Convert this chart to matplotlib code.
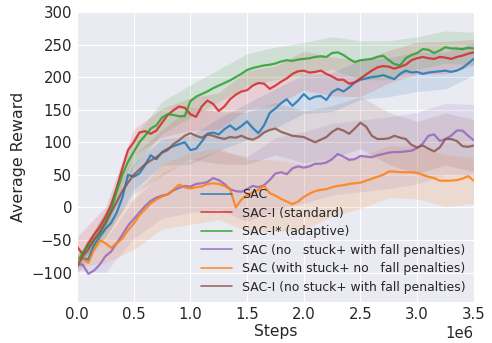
import numpy as np
import matplotlib
matplotlib.use("Agg")
import matplotlib.pyplot as plt
import seaborn as sns

steps = np.round(np.arange(0, 3.5001, 0.05), 2) * 1e6
band_steps = np.round(np.arange(0, 3.5001, 0.25), 2) * 1e6

labels = ["SAC", "SAC-I (standard)", "SAC-I* (adaptive)",
          "SAC (no   stuck+ with fall penalties)",
          "SAC (with stuck+ no   fall penalties)",
          "SAC-I (no stuck+ with fall penalties)"]

sac = [-80, -78, -80, -58, -45, -33, -24, -8, 15, 50, 47, 52, 65, 80, 74, 85, 90, 94, 97, 100,
       88, 90, 101, 113, 115, 112, 120, 126, 119, 125, 132, 122, 114, 126, 145, 152, 160, 166, 156, 164,
       174, 166, 170, 171, 165, 177, 182, 178, 184, 192, 196, 198, 200, 201, 203, 200, 197, 205, 210, 207,
       208, 205, 207, 208, 209, 210, 208, 210, 214, 221, 228]
sac_i = [-60, -72, -55, -42, -30, -15, 3, 30, 60, 88, 100, 115, 117, 113, 118, 130, 142, 149, 155, 153,
         143, 139, 155, 164, 159, 148, 155, 166, 173, 178, 180, 187, 191, 190, 182, 187, 193, 198, 205, 209,
         210, 207, 208, 210, 205, 201, 196, 196, 190, 192, 198, 204, 210, 215, 217, 216, 213, 216, 219, 226,
         229, 231, 229, 228, 231, 230, 228, 231, 233, 236, 238]
sac_i_star = [-85, -70, -60, -50, -40, -22, -5, 25, 50, 70, 85, 100, 110, 121, 126, 138, 143, 142, 140, 140,
              163, 170, 174, 178, 183, 187, 191, 195, 200, 205, 211, 214, 216, 218, 219, 221, 224, 226, 225, 227,
              228, 229, 231, 232, 231, 237, 238, 234, 228, 223, 226, 227, 228, 231, 233, 226, 220, 218, 229, 234,
              237, 243, 242, 237, 241, 246, 244, 244, 243, 245, 244]
sac_fall = [-87, -88, -102, -97, -88, -75, -68, -55, -42, -28, -18, -8, 2, 10, 15, 18, 20, 26, 30, 33,
            32, 36, 37, 39, 45, 42, 36, 28, 25, 24, 28, 33, 31, 34, 42, 52, 54, 51, 60, 63,
            61, 63, 67, 67, 69, 74, 82, 78, 73, 74, 79, 78, 77, 80, 82, 84, 85, 85, 86, 87,
            91, 98, 110, 112, 102, 105, 110, 118, 118, 110, 103]
sac_stuck = [-82, -78, -85, -65, -50, -55, -62, -55, -48, -35, -25, -12, -3, 6, 12, 17, 20, 27, 35, 31,
             29, 31, 32, 36, 37, 36, 33, 28, 0, 12, 19, 23, 27, 33, 22, 18, 13, 9, 5, 9,
             16, 21, 25, 27, 28, 31, 33, 34, 36, 37, 38, 41, 44, 47, 50, 55, 55, 54, 54, 54,
             53, 50, 47, 45, 41, 41, 41, 42, 44, 48, 41]
sac_i_fall = [-92, -75, -65, -50, -38, -25, -8, 8, 25, 38, 50, 58, 66, 72, 77, 84, 88, 97, 103, 110,
              114, 110, 107, 112, 110, 107, 105, 108, 107, 110, 106, 104, 108, 115, 119, 121, 116, 113, 110, 109,
              108, 104, 100, 104, 108, 116, 121, 118, 113, 121, 130, 124, 110, 105, 105, 106, 110, 107, 105, 96,
              92, 95, 90, 86, 92, 105, 105, 102, 94, 93, 95]

spread_sac = [5, 15, 20, 20, 22, 25, 28, 30, 30, 30, 30, 30, 30, 28, 25]
spread_sac_i = [15, 15, 20, 22, 25, 28, 30, 30, 30, 30, 28, 25, 25, 25, 20]
spread_sac_i_star = [10, 15, 22, 25, 25, 25, 25, 25, 25, 25, 30, 30, 25, 25, 25]
spread_sac_fall = [10, 25, 30, 35, 40, 45, 50, 55, 55, 55, 55, 55, 55, 55, 55]
spread_sac_stuck = [10, 30, 40, 50, 55, 55, 55, 55, 50, 45, 40, 40, 40, 40, 35]
spread_sac_i_fall = [10, 20, 30, 35, 40, 40, 40, 40, 40, 40, 40, 40, 40, 40, 40]

series = [sac, sac_i, sac_i_star, sac_fall, sac_stuck, sac_i_fall]
spreads = [spread_sac, spread_sac_i, spread_sac_i_star, spread_sac_fall, spread_sac_stuck, spread_sac_i_fall]
colors = ["tab:blue", "tab:red", "tab:green", "tab:purple", "tab:orange", "tab:brown"]

sns.set_style("darkgrid")
plt.rcParams['font.family'] = ['DejaVu Sans']

fig = plt.figure(figsize=(4.92, 3.43), dpi=100)
ax = fig.add_axes([0.1565, 0.12, 0.8065, 0.845])

for vals, spr, col in zip(series, spreads, colors):
    v = np.array(vals, dtype=float)
    s = np.array(spr, dtype=float)
    vc = v[::5]
    ax.fill_between(band_steps, vc - s, vc + s, color=col, alpha=0.14, linewidth=0)

for vals, col, lab in zip(series, colors, labels):
    ax.plot(steps, vals, color=col, lw=1.6, alpha=0.85, label=lab)

ax.set_xlim(0, 3.5e6)
ax.set_ylim(-145, 300)
ax.set_yticks(np.arange(-100, 301, 50))
ax.set_xticks(np.arange(0, 3.51e6, 0.5e6))
ax.tick_params(labelsize=10.7, length=0, pad=3.5)
ax.xaxis.get_offset_text().set_fontsize(10.7)
ax.set_xlabel("Steps", fontsize=11.2, labelpad=2)
ax.set_ylabel("Average Reward", fontsize=11.4, labelpad=4)

leg = ax.legend(loc="lower right", frameon=False, fontsize=8.9, handlelength=2.5,
                borderaxespad=0.25, labelspacing=0.45)
for h in leg.get_lines():
    h.set_linewidth(1.2)

fig.savefig("out.png", dpi=100)
